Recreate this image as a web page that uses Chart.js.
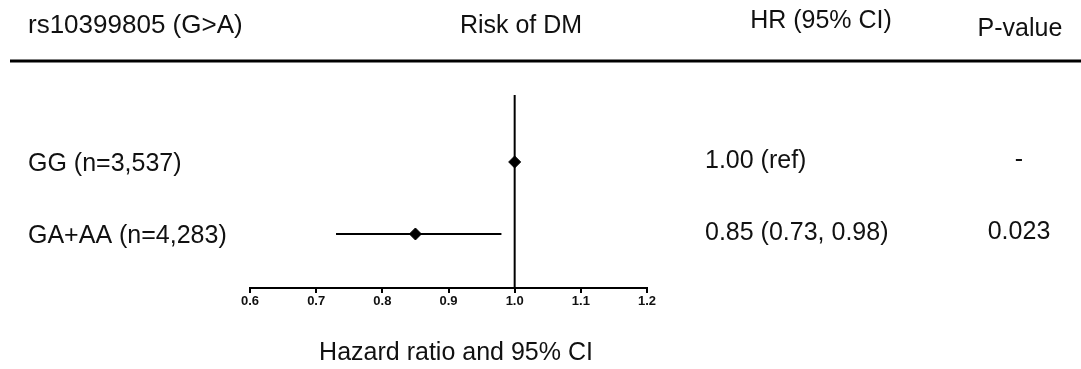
<!DOCTYPE html>
<html>
<head>
<meta charset="utf-8">
<script src="https://cdn.jsdelivr.net/npm/chart.js@4.4.1/dist/chart.umd.min.js"></script>
<style>
  html, body { margin: 0; padding: 0; background: #fff; }
  canvas { display: block; }
</style>
</head>
<body>
<canvas id="forest" width="1081" height="369"></canvas>
<script>
// genotype rows, top to bottom
var groups = ["GG (n=3,537)", "GA+AA (n=4,283)"];
var hr = [1.00, 0.85];
var ciLow = [null, 0.73];
var ciHigh = [null, 0.98];
var hrText = ["1.00 (ref)", "0.85 (0.73, 0.98)"];
var pText = ["-", "0.023"];
var xTicks = [0.6, 0.7, 0.8, 0.9, 1.0, 1.1, 1.2];

// row positions on the y scale (first row at top)
var rowY = [1, 0];
var yMin = -0.75, yMax = 1.93;

var FONT = '"Liberation Sans", Arial, sans-serif';

var points = groups.map(function (g, i) { return { x: hr[i], y: rowY[i] }; });

var datasets = [];
// reference line at HR = 1
datasets.push({
  type: 'line',
  data: [{ x: 1, y: yMin }, { x: 1, y: yMax }],
  borderColor: '#000',
  borderWidth: 2,
  pointRadius: 0
});
// confidence intervals
groups.forEach(function (g, i) {
  if (ciLow[i] == null) return;
  datasets.push({
    type: 'line',
    data: [{ x: ciLow[i], y: rowY[i] }, { x: ciHigh[i], y: rowY[i] }],
    borderColor: '#000',
    borderWidth: 2,
    pointRadius: 0
  });
});
// point estimates
datasets.push({
  type: 'scatter',
  data: points,
  pointStyle: 'rectRot',
  pointRadius: 6,
  backgroundColor: '#000',
  borderColor: '#000',
  borderWidth: 1
});

var tablePlugin = {
  id: 'table',
  afterDraw: function (chart) {
    var ctx = chart.ctx;
    var ys = chart.scales.y;
    ctx.save();
    ctx.fillStyle = '#111';
    ctx.textBaseline = 'alphabetic';

    // header
    ctx.textAlign = 'left';
    ctx.font = '26px ' + FONT;
    ctx.fillText('rs10399805 (G>A)', 28, 33);
    ctx.font = '25px ' + FONT;
    ctx.textAlign = 'center';
    ctx.fillText('Risk of DM', 521, 33);
    ctx.fillText('HR (95% CI)', 821, 28);
    ctx.fillText('P-value', 1020, 36);

    ctx.strokeStyle = '#000';
    ctx.lineWidth = 3;
    ctx.beginPath();
    ctx.moveTo(10, 61);
    ctx.lineTo(1081, 61);
    ctx.stroke();

    // rows
    ctx.font = '25px ' + FONT;
    groups.forEach(function (g, i) {
      var y = ys.getPixelForValue(rowY[i]);
      ctx.textAlign = 'left';
      ctx.fillText(g, 28, y + 9);
      ctx.fillText(hrText[i], 705, y + 6);
      ctx.textAlign = 'center';
      ctx.fillText(pText[i], 1019, y + 5);
    });

    // axis title
    ctx.textAlign = 'center';
    ctx.fillText('Hazard ratio and 95% CI', 456, 360);
    ctx.restore();
  }
};

new Chart(document.getElementById('forest'), {
  type: 'scatter',
  data: { datasets: datasets },
  options: {
    responsive: false,
    animation: false,
    layout: { padding: { left: 250, right: 434, top: 95, bottom: 51 } },
    plugins: { legend: { display: false }, tooltip: { enabled: false } },
    scales: {
      x: {
        type: 'linear',
        min: 0.6,
        max: 1.2,
        afterBuildTicks: function (s) { s.ticks = xTicks.map(function (v) { return { value: v }; }); },
        afterFit: function (s) { s.height = 30; },
        border: { display: true, color: '#000', width: 2 },
        grid: { drawOnChartArea: false, drawTicks: true, tickLength: 5, color: '#000', lineWidth: 2 },
        ticks: {
          color: '#111',
          padding: 1,
          maxRotation: 0,
          font: { family: FONT, size: 13, weight: 'bold' },
          callback: function (v) { return Number(v).toFixed(1); }
        }
      },
      y: {
        type: 'linear',
        display: false,
        min: yMin,
        max: yMax
      }
    }
  },
  plugins: [tablePlugin]
});
</script>
</body>
</html>
